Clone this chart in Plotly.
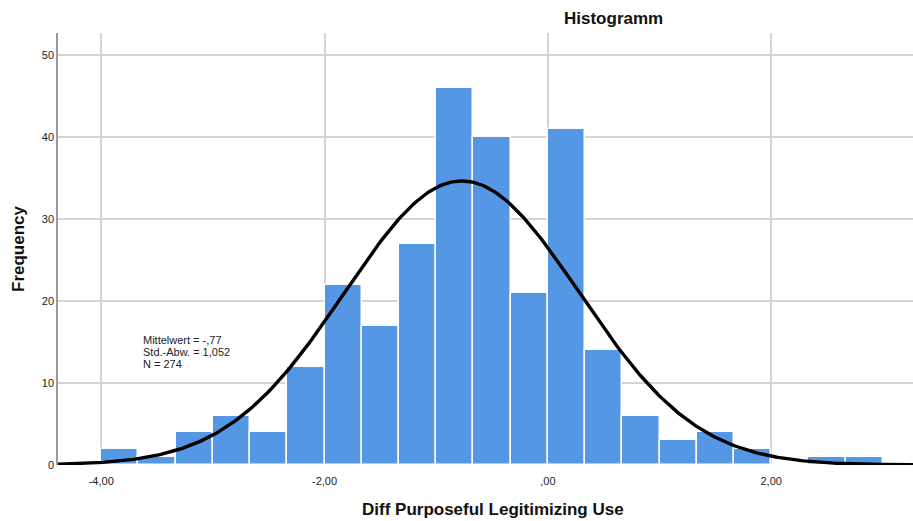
import numpy as np
import plotly.graph_objects as go

# Bin left edges (width 1/3) and frequencies
bin_width = 1 / 3
bin_starts = [-4.0 + i * bin_width for i in range(21)]
frequencies = [2, 1, 4, 6, 4, 12, 22, 17, 27, 46, 40, 21, 41, 14, 6, 3, 4, 2, 0, 1, 1]

# Statistics shown in the chart
mean_val = -0.77
sd_val = 1.052
n_val = 274
stats_lines = ["Mittelwert = -,77", "Std.-Abw. = 1,052", "N = 274"]

x_tickvals = [-4, -2, 0, 2]
x_ticktext = ["-4,00", "-2,00", ",00", "2,00"]
y_tickvals = [0, 10, 20, 30, 40, 50]

bar_centers = [s + bin_width / 2 for s in bin_starts]

x_min, x_max = -4.387, 3.27
y_max = 52.68
curve_x = np.linspace(x_min, x_max, 400)
curve_y = n_val * bin_width / (sd_val * np.sqrt(2 * np.pi)) * np.exp(-0.5 * ((curve_x - mean_val) / sd_val) ** 2)

fig = go.Figure()
fig.add_trace(go.Bar(
    x=bar_centers, y=frequencies, width=bin_width,
    marker=dict(color="#5596E5", line=dict(color="#ffffff", width=1.5)),
    hoverinfo="x+y", showlegend=False,
))
fig.add_trace(go.Scatter(
    x=curve_x, y=curve_y, mode="lines",
    line=dict(color="#000000", width=3.4), showlegend=False,
    hoverinfo="skip",
))

font_family = "Liberation Sans, Arial, sans-serif"

W, H = 913, 521
ML, MR, MT, MB = 58, 0, 33, 56
plot_w = W - ML - MR
plot_h = H - MT - MB

annotations = []
for i, line in enumerate(stats_lines):
    y_px = 340 + 12 * i
    annotations.append(dict(
        text=line, x=-3.64, y=(H - MB - y_px) / plot_h * y_max, xref="x", yref="y",
        xanchor="left", yanchor="middle", showarrow=False,
        font=dict(size=11, color="#222222"),
    ))
annotations.append(dict(
    text="<b>Histogramm</b>", x=(613 - ML) / plot_w, y=(H - MB - 19) / plot_h,
    xref="paper", yref="paper", xanchor="center", yanchor="middle",
    showarrow=False, font=dict(size=17, color="#111111"),
))
annotations.append(dict(
    text="<b>Diff Purposeful Legitimizing Use</b>", x=(492.5 - ML) / plot_w,
    y=(H - MB - 509) / plot_h,
    xref="paper", yref="paper", xanchor="center", yanchor="middle",
    showarrow=False, font=dict(size=17, color="#111111"),
))

fig.update_layout(
    width=W, height=H,
    margin=dict(l=ML, r=MR, t=MT, b=MB),
    paper_bgcolor="white", plot_bgcolor="white",
    font=dict(family=font_family, color="#222222", size=11),
    bargap=0,
    xaxis=dict(
        range=[x_min, x_max], tickvals=x_tickvals, ticktext=x_ticktext,
        showgrid=True, gridcolor="#d4d4d4", gridwidth=1.5,
        zeroline=False, showline=False, ticks="", ticklen=0,
        ticklabelstandoff=8,
        tickfont=dict(size=11, color="#222222"),
    ),
    yaxis=dict(
        range=[0, y_max], tickvals=y_tickvals,
        showgrid=True, gridcolor="#d4d4d4", gridwidth=1.5,
        zeroline=False, showline=True, linecolor="#9a9a9a", linewidth=1.5,
        ticks="", ticklen=0,
        tickfont=dict(size=11, color="#222222"),
        title=dict(text="<b>Frequency</b>", font=dict(size=17, color="#111111"), standoff=13),
    ),
    annotations=annotations,
)

fig.write_html("out.html")
